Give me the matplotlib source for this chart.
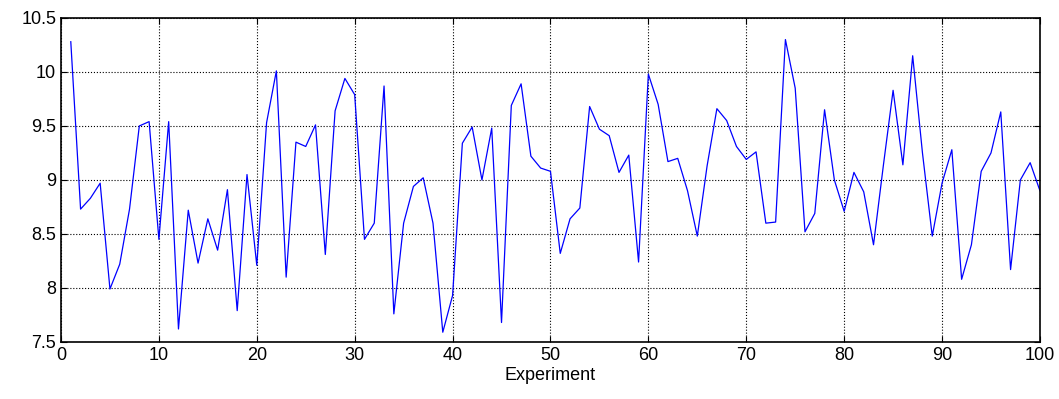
import matplotlib
matplotlib.use("Agg")
import matplotlib.pyplot as plt
import numpy as np

# measured values, one per experiment (1..100)
experiments = np.arange(1, 101)
values = [
    10.28, 8.73, 8.83, 8.97, 7.99, 8.22, 8.73, 9.50, 9.54, 8.45,
    9.54, 7.62, 8.72, 8.23, 8.64, 8.35, 8.91, 7.79, 9.05, 8.21,
    9.53, 10.01, 8.10, 9.35, 9.31, 9.51, 8.31, 9.64, 9.94, 9.79,
    8.45, 8.60, 9.87, 7.76, 8.60, 8.94, 9.02, 8.60, 7.59, 7.93,
    9.34, 9.49, 9.00, 9.48, 7.68, 9.69, 9.89, 9.22, 9.11, 9.08,
    8.32, 8.64, 8.74, 9.68, 9.47, 9.41, 9.07, 9.23, 8.24, 9.98,
    9.70, 9.17, 9.20, 8.90, 8.48, 9.13, 9.66, 9.55, 9.31, 9.19,
    9.26, 8.60, 8.61, 10.30, 9.85, 8.52, 8.69, 9.65, 9.00, 8.71,
    9.07, 8.89, 8.40, 9.13, 9.83, 9.14, 10.15, 9.25, 8.48, 8.97,
    9.28, 8.08, 8.40, 9.08, 9.25, 9.63, 8.17, 9.00, 9.16, 8.90,
]
xticks = np.arange(0, 101, 10)
yticks = [7.5, 8, 8.5, 9, 9.5, 10, 10.5]
ytick_labels = ["7.5", "8", "8.5", "9", "9.5", "10", "10.5"]

plt.rcParams["font.family"] = ["Liberation Sans", "DejaVu Sans"]

fig = plt.figure(figsize=(10.59, 3.99), dpi=100)
ax = fig.add_axes([0.0576, 0.143, 0.9244, 0.812])

ax.plot(experiments, values, color="#0000ff", linewidth=0.9)

ax.set_xlim(0, 100)
ax.set_ylim(7.5, 10.5)
ax.set_xticks(xticks)
ax.set_yticks(yticks)
ax.set_yticklabels(ytick_labels)
ax.tick_params(direction="in", top=True, right=True, labelsize=13, length=4, width=0.8)
ax.grid(True, color="black", linestyle=":", linewidth=0.8)
for s in ax.spines.values():
    s.set_linewidth(1.2)
ax.set_xlabel("Experiment", fontsize=13, labelpad=2)

fig.savefig("out.png", dpi=100)
